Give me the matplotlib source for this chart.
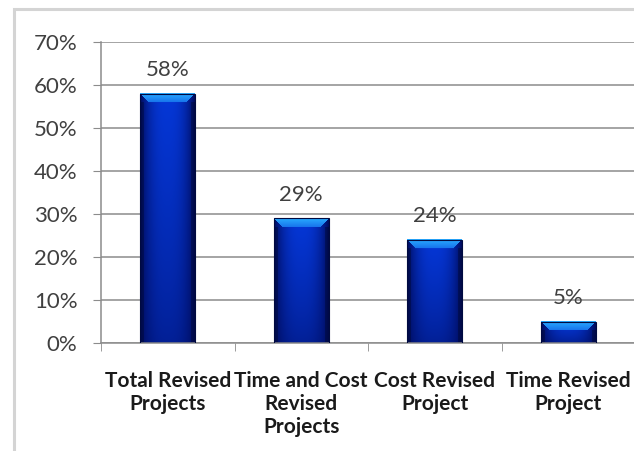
# Bar chart: share of revised projects
import numpy as np
import matplotlib
matplotlib.use("Agg")
import matplotlib.pyplot as plt
from matplotlib.patches import Rectangle
from matplotlib.ticker import FixedLocator

# data
categories = ["Total Revised\nProjects", "Time and Cost\nRevised\nProjects",
              "Cost Revised\nProject", "Time Revised\nProject"]
values = [58, 29, 24, 5]
ytick_vals = [0, 10, 20, 30, 40, 50, 60, 70]
ytick_labels = [f"{v}%" for v in ytick_vals]

plt.rcParams['font.family'] = ['Lato', 'DejaVu Sans']

W, H = 634, 451
fig = plt.figure(figsize=(W / 100, H / 100), dpi=100)
fig.patch.set_facecolor('white')

# outer chart frame
fig.patches.append(Rectangle((14, -10), 640, 451 - 9 + 10, transform=None,
                             fill=False, edgecolor='#d4d4d4', lw=2.2))

ax = fig.add_axes([101 / W, 108 / H, 534 / W, 301 / H])
ax.set_xlim(-0.5, len(categories) - 0.5)
ax.set_ylim(0, 70)
ax.set_facecolor('none')

ax.set_yticks(ytick_vals)
ax.set_yticklabels(ytick_labels, fontsize=16, color='#404040')
ax.yaxis.grid(True, color='#8c8c8c', lw=1.1)
ax.set_axisbelow(True)
ax.tick_params(axis='y', length=6, color='#8c8c8c', pad=11)

x = np.arange(len(categories))
ax.set_xticks(x)
ax.set_xticklabels(categories, fontsize=15, fontweight='bold', color='#1a1a1a',
                   linespacing=1.2)
ax.tick_params(axis='x', length=0, pad=20)
ax.xaxis.set_minor_locator(FixedLocator(np.arange(-0.5, len(categories), 1.0)))
ax.tick_params(axis='x', which='minor', length=6, color='#8c8c8c')

for s in ['top', 'right']:
    ax.spines[s].set_visible(False)
for s in ['left', 'bottom']:
    ax.spines[s].set_color('#8c8c8c')
    ax.spines[s].set_linewidth(1.1)


def bar_image(h_px, w_px, bevel=9):
    dark = np.array([0, 12, 95]) / 255
    mid = np.array([5, 55, 215]) / 255
    top_c = np.array([40, 170, 255]) / 255
    img = np.zeros((h_px, w_px, 3))
    cols = np.arange(w_px)
    xs = cols / (w_px - 1)
    prof = 1 - (2 * np.abs(xs - 0.5)) ** 2.5  # edges darker
    for r in range(h_px):
        t = 1 - r / max(h_px - 1, 1)  # 1 at top
        vert = 0.45 + 0.55 * t ** 0.8
        base = dark + (mid - dark) * (prof[:, None] * vert)
        img[r] = base
        dl = cols
        dr = w_px - 1 - cols
        if r < bevel:
            m = (r <= dl) & (r <= dr)
            f = 1 - r / bevel * 0.5
            img[r, m] = top_c * f + mid * (1 - f)
    # side bevels darker
    for c in range(min(4, w_px // 2)):
        img[bevel:, c] *= 0.75
        img[bevel:, w_px - 1 - c] *= 0.75
    return np.clip(img, 0, 1)


bw = 0.41
px_per_unit = 301 / 70
for xi, v in zip(x, values):
    hp = max(int(round(v * px_per_unit)), 2)
    img = bar_image(hp, 55, bevel=min(9, hp // 2))
    ax.imshow(img, extent=(xi - bw / 2, xi + bw / 2, 0, v), aspect='auto',
              interpolation='bilinear', zorder=2)
    ax.add_patch(Rectangle((xi - bw / 2, 0), bw, v, fill=False,
                           edgecolor='#000a40', lw=0.8, zorder=3))
    ax.annotate(f"{v}%", (xi, v), xytext=(0, 17), textcoords='offset points',
                ha='center', va='center', fontsize=16, color='#404040', zorder=4)

ax.set_xlim(-0.5, len(categories) - 0.5)
ax.set_ylim(0, 70)

fig.savefig("out.png", dpi=100)
